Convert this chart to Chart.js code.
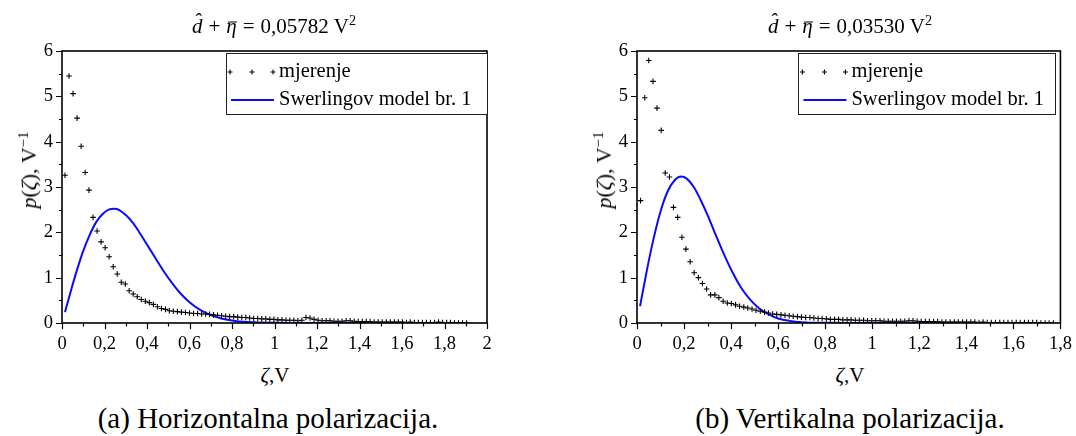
<!DOCTYPE html>
<html>
<head>
<meta charset="utf-8">
<script src="https://cdn.jsdelivr.net/npm/chart.js@4/dist/chart.umd.min.js"></script>
<style>
  html, body { margin: 0; padding: 0; background: #fff; }
  body { width: 1076px; height: 436px; position: relative; overflow: hidden;
         font-family: 'Liberation Serif', 'Times New Roman', serif; color: #000; }
  canvas { position: absolute; top: 0; }
  .lbl { position: absolute; white-space: nowrap; transform: translate(-50%, -50%); line-height: 1; }
  .title { font-size: 21px; top: 26px; }
  .title .op { padding: 0 6px; }
  .bar { position: relative; display: inline-block; }
  .bar::after { content: ''; position: absolute; left: 18%; right: 2%; top: 0.3em; border-top: 1px solid #000; }
  .xt { font-size: 21px; top: 375px; }
  .yt { font-size: 22px; top: 170px; transform: translate(-50%, -50%) rotate(-90deg); }
  .cap { font-size: 29px; top: 418px; }
  sup { font-size: 0.68em; vertical-align: 0.55em; line-height: 0; }
</style>
</head>
<body>
<canvas id="cA" width="540" height="360" style="left:0px"></canvas>
<canvas id="cB" width="501" height="360" style="left:575px"></canvas>

<div class="lbl title" style="left:274px"><i>d&#770;</i><span class="op">+</span><i class="bar">&#951;</i><span class="op">=</span>0,05782 V<sup>2</sup></div>
<div class="lbl title" style="left:850px"><i>d&#770;</i><span class="op">+</span><i class="bar">&#951;</i><span class="op">=</span>0,03530 V<sup>2</sup></div>
<div class="lbl yt" style="left:29px"><i>p</i>(<i>&#950;</i>), V<sup>&minus;1</sup></div>
<div class="lbl yt" style="left:604px"><i>p</i>(<i>&#950;</i>), V<sup>&minus;1</sup></div>
<div class="lbl xt" style="left:275px"><i>&#950;</i>,V</div>
<div class="lbl xt" style="left:850px"><i>&#950;</i>,V</div>
<div class="lbl cap" style="left:268px">(a) Horizontalna polarizacija.</div>
<div class="lbl cap" style="left:850px">(b) Vertikalna polarizacija.</div>

<script>
// Measured densities, horizontal polarization
const horizZeta = [0.014,0.033,0.052,0.071,0.090,0.109,0.127,0.146,0.165,0.184,
  0.203,0.222,0.241,0.260,0.279,0.298,0.316,0.335,0.354,0.373,
  0.392,0.411,0.430,0.449,0.468,0.487,0.505,0.524,0.543,0.562,
  0.581,0.600,0.619,0.638,0.657,0.676,0.694,0.713,0.732,0.751,
  0.770,0.789,0.808,0.827,0.846,0.865,0.883,0.902,0.921,0.940,
  0.959,0.978,0.997,1.016,1.035,1.054,1.072,1.091,1.110,1.129,
  1.148,1.167,1.186,1.205,1.224,1.243,1.261,1.280,1.299,1.318,
  1.337,1.356,1.375,1.394,1.413,1.432,1.450,1.469,1.488,1.507,
  1.526,1.545,1.564,1.583,1.602,1.621,1.639,1.658,1.677,1.696,
  1.715,1.734,1.753,1.772,1.791,1.810,1.828,1.847,1.866,1.885,
  1.904];
const horizMeasured = [3.26,5.45,5.06,4.52,3.90,3.32,2.93,2.33,2.03,1.79,
  1.66,1.46,1.24,1.08,0.90,0.86,0.71,0.64,0.58,0.52,
  0.48,0.45,0.41,0.36,0.32,0.30,0.27,0.26,0.25,0.24,
  0.23,0.22,0.21,0.21,0.20,0.20,0.19,0.18,0.17,0.16,
  0.15,0.14,0.14,0.13,0.12,0.12,0.11,0.10,0.10,0.09,
  0.09,0.08,0.08,0.07,0.07,0.06,0.06,0.06,0.05,0.06,
  0.12,0.11,0.08,0.06,0.05,0.05,0.05,0.04,0.04,0.04,
  0.05,0.05,0.04,0.03,0.03,0.03,0.03,0.02,0.02,0.02,
  0.02,0.02,0.02,0.02,0.02,0.01,0.02,0.01,0.01,0.01,
  0.01,0.01,0.01,0.02,0.01,0.01,0.01,0.00,0.00,0.00,
  0.00];

// Swerling case 1 curve, horizontal polarization
const horizModelZeta = [0.014,0.04,0.07,0.10,0.13,0.16,0.19,0.22,0.245,0.27,
  0.30,0.33,0.36,0.40,0.44,0.48,0.52,0.56,0.60,0.65,
  0.70,0.75,0.80,0.85,0.90,1.00,1.10,1.30,1.60,1.90];
const horizModel = [0.24,0.68,1.16,1.59,1.94,2.22,2.40,2.50,2.52,2.49,
  2.38,2.23,2.03,1.73,1.43,1.13,0.87,0.64,0.46,0.29,
  0.175,0.10,0.055,0.028,0.014,0.003,0.001,0,0,0];

// Measured densities, vertical polarization
const vertZeta = [0.015,0.033,0.050,0.068,0.085,0.103,0.120,0.138,0.155,0.173,
  0.191,0.208,0.226,0.243,0.261,0.278,0.296,0.313,0.331,0.348,
  0.366,0.384,0.401,0.419,0.436,0.454,0.471,0.489,0.506,0.524,
  0.542,0.559,0.577,0.594,0.612,0.629,0.647,0.664,0.682,0.699,
  0.717,0.735,0.752,0.770,0.787,0.805,0.822,0.840,0.857,0.875,
  0.893,0.910,0.928,0.945,0.963,0.980,0.998,1.015,1.033,1.050,
  1.068,1.086,1.103,1.121,1.138,1.156,1.173,1.191,1.208,1.226,
  1.243,1.261,1.278,1.296,1.313,1.331,1.349,1.366,1.384,1.401,
  1.419,1.436,1.454,1.471,1.489,1.506,1.524,1.542,1.559,1.577,
  1.594,1.612,1.629,1.647,1.664,1.682,1.699,1.717,1.735,1.752,
  1.770];
const vertMeasured = [2.70,4.97,5.79,5.33,4.74,4.25,3.31,3.22,2.55,2.33,
  1.89,1.63,1.35,1.11,1.00,0.87,0.75,0.62,0.62,0.56,
  0.48,0.44,0.43,0.40,0.37,0.35,0.33,0.31,0.28,0.26,
  0.24,0.22,0.20,0.19,0.18,0.17,0.16,0.15,0.14,0.13,
  0.12,0.12,0.11,0.10,0.10,0.09,0.08,0.08,0.08,0.07,
  0.07,0.07,0.06,0.06,0.06,0.05,0.05,0.05,0.05,0.04,
  0.04,0.04,0.04,0.04,0.04,0.05,0.05,0.04,0.03,0.03,
  0.03,0.03,0.03,0.02,0.02,0.02,0.02,0.02,0.02,0.02,
  0.02,0.02,0.01,0.02,0.01,0.01,0.01,0.01,0.01,0.01,
  0.01,0.01,0.01,0.01,0.01,0.01,0.01,0.00,0.00,0.00,
  0.00];

// Swerling case 1 curve, vertical polarization
const vertModelZeta = [0.013,0.04,0.07,0.10,0.13,0.16,0.188,0.21,0.24,0.27,
  0.30,0.33,0.36,0.40,0.44,0.48,0.52,0.56,0.60,0.65,
  0.70,0.80,0.90,1.10,1.40,1.77];
const vertModel = [0.37,1.11,1.85,2.46,2.90,3.15,3.23,3.19,3.01,2.72,
  2.38,2.00,1.63,1.18,0.80,0.52,0.32,0.19,0.10,0.046,
  0.019,0.003,0,0,0,0];

const yTicks = [0, 1, 2, 3, 4, 5, 6];
const legendLabels = ['mjerenje', 'Swerlingov model br. 1'];

const SERIF = "'Liberation Serif', 'Times New Roman', serif";
const BLUE = '#0a0aff';

function pairs(xs, ys) { return xs.map((x, i) => ({ x: x, y: ys[i] })); }
function decimalComma(v) { return String(Number(v.toFixed(1))).replace('.', ','); }

// box frame, outward major/minor ticks and the inset legend
const framePlugin = {
  id: 'frameLegend',
  afterDraw(chart, args, opts) {
    const { ctx, chartArea: a, scales } = chart;
    ctx.save();
    ctx.strokeStyle = '#000';
    ctx.lineWidth = 1.6;
    ctx.strokeRect(a.left, a.top, a.right - a.left, a.bottom - a.top);

    ctx.lineWidth = 1.2;
    ctx.beginPath();
    for (let k = 0; k <= 12; k++) {
      const y = Math.round(scales.y.getPixelForValue(k / 2)) + 0.5;
      const len = k % 2 === 0 ? 6 : 3;
      ctx.moveTo(a.left - len, y); ctx.lineTo(a.left, y);
    }
    const nx = Math.round(scales.x.max * 10);
    for (let k = 0; k <= nx; k++) {
      const x = Math.round(scales.x.getPixelForValue(k / 10)) + 0.5;
      const len = k % 2 === 0 ? 6 : 3.5;
      ctx.moveTo(x, a.bottom); ctx.lineTo(x, a.bottom + len);
    }
    ctx.stroke();

    // legend
    const bx = a.right - opts.rightGap - opts.width;
    const by = a.top + 2;
    ctx.fillStyle = '#fff';
    ctx.fillRect(bx, by, opts.width, 61);
    ctx.strokeStyle = '#222';
    ctx.lineWidth = 1;
    ctx.strokeRect(Math.round(bx) + 0.5, by + 0.5, opts.width, 61);

    const r1 = by + 19, r2 = by + 47;
    ctx.strokeStyle = '#000';
    ctx.lineWidth = 1.1;
    ctx.beginPath();
    [4, 26, 47].forEach(dx => {
      const px = bx + dx;
      ctx.moveTo(px - 2.5, r1); ctx.lineTo(px + 2.5, r1);
      ctx.moveTo(px, r1 - 2.5); ctx.lineTo(px, r1 + 2.5);
    });
    ctx.stroke();
    ctx.strokeStyle = BLUE;
    ctx.lineWidth = 1.8;
    ctx.beginPath();
    ctx.moveTo(bx + 5, r2); ctx.lineTo(bx + 48, r2);
    ctx.stroke();

    ctx.fillStyle = '#000';
    ctx.font = '20.5px ' + SERIF;
    ctx.textBaseline = 'middle';
    ctx.textAlign = 'left';
    ctx.fillText(legendLabels[0], bx + 53, r1);
    ctx.fillText(legendLabels[1], bx + 53, r2);
    ctx.restore();
  }
};

function makeChart(id, zeta, measured, modelZeta, model, xMax, rightPad, legendWidth, legendGap) {
  const tickFont = { family: SERIF, size: 18.5 };
  return new Chart(document.getElementById(id), {
    type: 'scatter',
    data: {
      datasets: [
        {
          label: legendLabels[0],
          data: pairs(zeta, measured),
          showLine: false,
          pointStyle: 'cross',
          pointRadius: 2.8,
          pointHoverRadius: 2.8,
          borderColor: '#000',
          backgroundColor: '#000',
          pointBorderWidth: 1.1
        },
        {
          label: legendLabels[1],
          data: pairs(modelZeta, model),
          showLine: true,
          borderColor: BLUE,
          borderWidth: 2,
          pointRadius: 0,
          fill: false,
          cubicInterpolationMode: 'monotone'
        }
      ]
    },
    options: {
      responsive: false,
      animation: false,
      devicePixelRatio: 1,
      events: [],
      layout: { padding: { top: 51, right: rightPad, left: 0, bottom: 0 } },
      plugins: {
        legend: { display: false },
        tooltip: { enabled: false },
        frameLegend: { width: legendWidth, rightGap: legendGap }
      },
      scales: {
        x: {
          type: 'linear', min: 0, max: xMax,
          afterFit(s) { s.height = 37; },
          grid: { display: true, drawOnChartArea: false, drawTicks: true, tickLength: 6, color: 'rgba(0,0,0,0)' },
          border: { display: false },
          ticks: { stepSize: 0.2, padding: 4, color: '#000', font: tickFont,
                   maxRotation: 0, autoSkip: false, callback: v => decimalComma(v) }
        },
        y: {
          type: 'linear', min: yTicks[0], max: yTicks[yTicks.length - 1],
          afterFit(s) { s.width = 62; },
          grid: { display: true, drawOnChartArea: false, drawTicks: true, tickLength: 6, color: 'rgba(0,0,0,0)' },
          border: { display: false },
          ticks: { stepSize: 1, padding: 3, color: '#000', font: tickFont, callback: v => String(v) }
        }
      }
    },
    plugins: [framePlugin]
  });
}

makeChart('cA', horizZeta, horizMeasured, horizModelZeta, horizModel, 2, 53, 261, 0);
makeChart('cB', vertZeta, vertMeasured, vertModelZeta, vertModel, 1.8, 13, 257, 5);
</script>
</body>
</html>
